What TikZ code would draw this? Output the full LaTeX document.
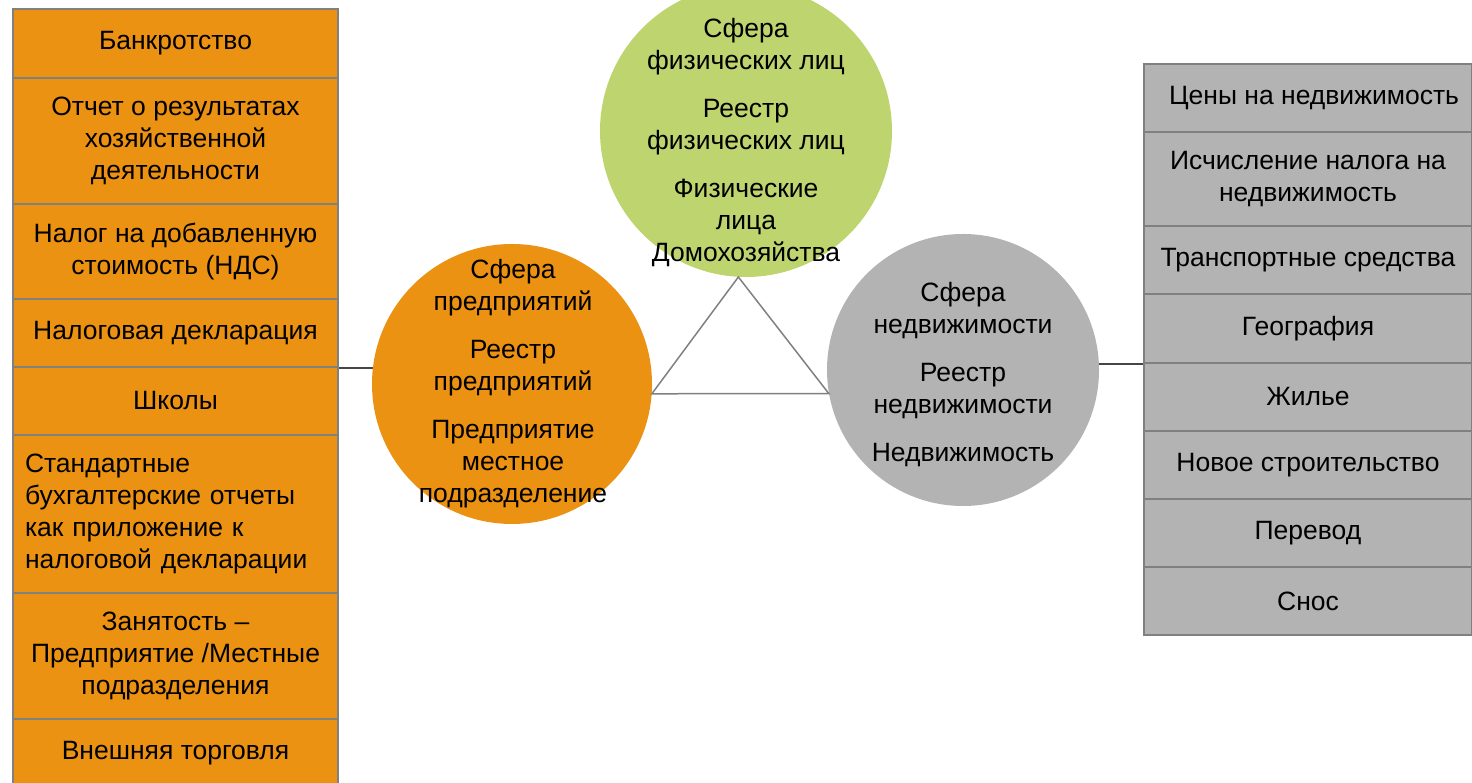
\documentclass[tikz,border=0pt]{standalone}
\usepackage{fontspec}
\setmainfont{Liberation Sans}
\definecolor{orfill}{RGB}{236,146,18}
\definecolor{grfill}{RGB}{190,212,110}
\definecolor{gyfill}{RGB}{179,179,179}
\definecolor{bordgray}{RGB}{128,128,128}
\definecolor{linegray}{RGB}{70,70,70}
\newcommand\dfont{\fontsize{26.5}{32}\selectfont}
\begin{document}
\begin{tikzpicture}[x=1pt,y=1pt,
  lbox/.style={draw=bordgray, fill=orfill, line width=2pt, minimum width=325pt, inner sep=0pt, anchor=north west, align=center, font=\dfont},
  rbox/.style={draw=bordgray, fill=gyfill, line width=2pt, minimum width=328pt, inner sep=0pt, anchor=north west, align=center, font=\dfont},
  disc/.style={circle, draw=none, inner sep=0pt},
  ctext/.style={align=center, font=\dfont, inner sep=0pt},
  tri/.style={draw=bordgray, line width=1.5pt},
  link/.style={draw=linegray, line width=1.2pt}]
\useasboundingbox (0,0) rectangle (1472,783);
% left column
\node[lbox, minimum height=69pt] (l1) at (12,775) {Банкротство};
\node[lbox, minimum height=126pt] (l2) at (12,706) {Отчет о результатах\\хозяйственной\\деятельности};
\node[lbox, minimum height=95pt] (l3) at (12,580) {Налог на добавленную\\стоимость (НДС)};
\node[lbox, minimum height=68pt] (l4) at (12,485) {Налоговая декларация};
\node[lbox, minimum height=68pt] (l5) at (12,417) {Школы};
\node[lbox, minimum height=158pt, text width=301pt, inner xsep=12pt, align=left] (l6) at (12,349) {Стандартные\\бухгалтерские отчеты\\как приложение к\\налоговой декларации};
\node[lbox, minimum height=126pt] (l7) at (12,191) {Занятость –\\Предприятие /Местные\\подразделения};
\node[lbox, minimum height=68pt] (l8) at (12,65) {Внешняя торговля};
% right column
\node[rbox, minimum height=68pt] (r1) at (1143,720) {\hspace*{12pt}Цены на недвижимость};
\node[rbox, minimum height=94pt] (r2) at (1143,652) {Исчисление налога на\\недвижимость};
\node[rbox, minimum height=68pt] (r3) at (1143,558) {Транспортные средства};
\node[rbox, minimum height=69pt] (r4) at (1143,490) {География};
\node[rbox, minimum height=68pt] (r5) at (1143,421) {Жилье};
\node[rbox, minimum height=68pt] (r6) at (1143,353) {Новое строительство};
\node[rbox, minimum height=68pt] (r7) at (1143,285) {Перевод};
\node[rbox, minimum height=68pt] (r8) at (1143,217) {Снос};
% side connectors (drawn first, hidden under the circles)
\coordinate (ecen) at (512,399);
\coordinate (pcen) at (963,413);
\draw[link] (l4.south east) -- (l4.south east -| ecen);
\draw[link] (r4.south west) -- (r4.south west -| pcen);
% circles
\node[disc, fill=grfill, minimum size=292pt] (pers) at (746,652) {};
\node[disc, fill=orfill, minimum size=280pt] (ent) at (ecen) {};
\node[disc, fill=gyfill, minimum size=272pt] (prop) at (pcen) {};
% triangle
\draw[tri] (pers.267) -- (ent.-4.5) -- (prop.190.6) -- cycle;
% circle texts
\node[ctext] (perst) at (746,640) {Сфера\\физических лиц\\[16pt]Реестр\\физических лиц\\[16pt]Физические\\лица\\Домохозяйства};
\node[ctext] (entt) at (513,399) {Сфера\\предприятий\\[16pt]Реестр\\предприятий\\[16pt]Предприятие\\местное\\подразделение};
\node[ctext] (propt) at (963,408.5) {Сфера\\недвижимости\\[16pt]Реестр\\недвижимости\\[16pt]Недвижимость};
\end{tikzpicture}
\end{document}
